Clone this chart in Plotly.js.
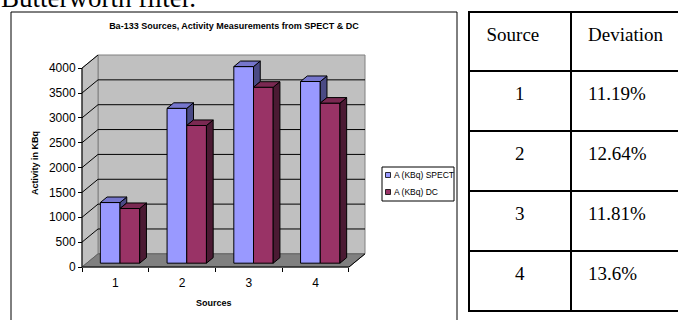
<!DOCTYPE html>
<html>
<head>
<meta charset="utf-8">
<script src="https://cdn.plot.ly/plotly-3.0.1.min.js"></script>
<style>
  html, body { margin: 0; padding: 0; background: #ffffff; overflow: hidden; }
  #chart { width: 678px; height: 320px; }
</style>
</head>
<body>
<div id="chart"></div>
<script>
// ---- data ----
const sources = [1, 2, 3, 4];
const sourceLabels = ['1', '2', '3', '4'];
const spectValues = [1220, 3115, 3955, 3655];
const dcValues = [1100, 2770, 3540, 3220];
const seriesNames = ['A (KBq) SPECT', 'A (KBq) DC'];
const yTickValues = [0, 500, 1000, 1500, 2000, 2500, 3000, 3500, 4000];
const tableHeader = ['Source', 'Deviation'];
const tableSources = ['1', '2', '3', '4'];
const tableDeviations = ['11.19%', '12.64%', '11.81%', '13.6%'];

// ---- page geometry ----
const W = 678, H = 320;
const YMAX = 4000;
const DX = 0.24;     // depth of the 3-D box, in category units
const DY = 265;      // depth of the 3-D box, in value units
const X0 = 0.5, X1 = sources.length + 0.5;
const PX = { left: 82, right: 365, top: 55, bottom: 267 };
const PAD = 3;
const xPerPx = ((X1 + DX) - X0) / (PX.right - PX.left);
const yPerPx = (YMAX + DY) / (PX.bottom - PX.top);
const xRange = [X0 - PAD * xPerPx, X1 + DX + PAD * xPerPx];
const yRange = [-PAD * yPerPx, YMAX + DY + PAD * yPerPx];
const xDomain = [(PX.left - PAD) / W, (PX.right + PAD) / W];
const yDomain = [1 - (PX.bottom + PAD) / H, 1 - (PX.top - PAD) / H];

// bar placement inside the box depth
const F0 = 0.29, F1 = 0.71, BAR_W = 0.295;
const BASE = F0 * DY, SHIFT = F0 * DX;
const DDX = (F1 - F0) * DX, DDY = (F1 - F0) * DY;

const COL = {
  spect: { front: '#9999ff', top: '#7676cc', side: '#4a4a85' },
  dc: { front: '#993366', top: '#7a2952', side: '#4b1a33' }
};

// ---- side and top faces of the columns ----
function facesTrace(polys, color) {
  const x = [], y = [];
  polys.forEach(p => {
    p.forEach(pt => { x.push(pt[0]); y.push(pt[1]); });
    x.push(p[0][0]); y.push(p[0][1]);
    x.push(null); y.push(null);
  });
  return {
    type: 'scatter', mode: 'lines', x: x, y: y, fill: 'toself',
    fillcolor: color, line: { color: '#000000', width: 1 },
    hoverinfo: 'skip', showlegend: false
  };
}

const spectTop = [], spectSide = [], dcTop = [], dcSide = [];
sources.forEach((s, i) => {
  const xa = s + SHIFT - BAR_W, xb = s + SHIFT, xc = s + SHIFT + BAR_W;
  const tS = BASE + spectValues[i], tD = BASE + dcValues[i];
  const low = Math.min(tS, tD);
  if (tS > tD) {
    spectSide.push([[xb, low], [xb, tS], [xb + DDX, tS + DDY], [xb + DDX, low + DDY]]);
  }
  spectTop.push([[xa, tS], [xb, tS], [xb + DDX, tS + DDY], [xa + DDX, tS + DDY]]);
  dcSide.push([[xc, BASE], [xc, tD], [xc + DDX, tD + DDY], [xc + DDX, BASE + DDY]]);
  dcTop.push([[xb, tD], [xc, tD], [xc + DDX, tD + DDY], [xb + DDX, tD + DDY]]);
});

// ---- table placement (pixels) ----
const TBL = { left: 469, mid: 571, right: 682, top: 12, header: 59, row: 60 };
const TEXT_DROP = 7;   // pushes the cell text a little lower inside each row
const tblBottom = TBL.top + TBL.header + TBL.row * tableSources.length;
const serifFont = { family: 'Liberation Serif, Times New Roman, serif', size: 19, color: '#000000' };

const traces = [
  {
    type: 'bar', x: sources, y: spectValues, base: BASE, width: BAR_W,
    offset: SHIFT - BAR_W, name: seriesNames[0],
    marker: { color: COL.spect.front, line: { color: '#000000', width: 1 } },
    showlegend: false, hoverinfo: 'skip'
  },
  {
    type: 'bar', x: sources, y: dcValues, base: BASE, width: BAR_W,
    offset: SHIFT, name: seriesNames[1],
    marker: { color: COL.dc.front, line: { color: '#000000', width: 1 } },
    showlegend: false, hoverinfo: 'skip'
  },
  facesTrace(spectSide, COL.spect.side),
  facesTrace(spectTop, COL.spect.top),
  facesTrace(dcSide, COL.dc.side),
  facesTrace(dcTop, COL.dc.top),
  {
    type: 'table',
    domain: { x: [TBL.left / W, 1], y: [1 - (tblBottom + TEXT_DROP) / H, 1 - (TBL.top + TEXT_DROP) / H] },
    columnwidth: [TBL.mid - TBL.left, W - TBL.mid],
    header: {
      values: tableHeader, align: ['left', 'left'], height: TBL.header,
      prefix: ['\u2002', '\u2002'],
      line: { color: 'rgba(0,0,0,0)', width: 0 }, fill: { color: 'rgba(0,0,0,0)' },
      font: serifFont
    },
    cells: {
      values: [tableSources, tableDeviations], align: ['center', 'left'], height: TBL.row,
      prefix: [null, '\u2002'],
      line: { color: 'rgba(0,0,0,0)', width: 0 }, fill: { color: 'rgba(0,0,0,0)' },
      font: serifFont
    }
  }
];

// ---- walls, floor and grid of the 3-D box ----
function path(pts) {
  return 'M' + pts.map(p => p[0] + ',' + p[1]).join('L') + 'Z';
}
function seg(a, b, color) {
  return { type: 'line', xref: 'x', yref: 'y', layer: 'below',
    x0: a[0], y0: a[1], x1: b[0], y1: b[1], line: { color: color, width: 1 } };
}
const shapes = [];
// back wall
shapes.push({ type: 'path', xref: 'x', yref: 'y', layer: 'below',
  path: path([[X0 + DX, DY], [X1 + DX, DY], [X1 + DX, YMAX + DY], [X0 + DX, YMAX + DY]]),
  fillcolor: '#c0c0c0', line: { color: '#808080', width: 1 } });
// side wall
shapes.push({ type: 'path', xref: 'x', yref: 'y', layer: 'below',
  path: path([[X0, 0], [X0 + DX, DY], [X0 + DX, YMAX + DY], [X0, YMAX]]),
  fillcolor: '#c0c0c0', line: { color: '#808080', width: 1 } });
// floor
shapes.push({ type: 'path', xref: 'x', yref: 'y', layer: 'below',
  path: path([[X0, 0], [X1, 0], [X1 + DX, DY], [X0 + DX, DY]]),
  fillcolor: '#808080', line: { color: '#606060', width: 1 } });
// grid lines
yTickValues.forEach(v => {
  if (v > 0) {
    shapes.push(seg([X0, v], [X0 + DX, v + DY], '#000000'));
    if (v < YMAX) shapes.push(seg([X0 + DX, v + DY], [X1 + DX, v + DY], '#000000'));
  }
});
// front axis lines
shapes.push(seg([X0, 0], [X0, YMAX], '#000000'));
shapes.push(seg([X0, 0], [X1, 0], '#000000'));
shapes.push(seg([X1, 0], [X1 + DX, DY], '#000000'));

// chart frame
shapes.push({ type: 'rect', xref: 'paper', yref: 'paper',
  x0: 11 / W, x1: 457 / W, y0: 1 - 322 / H, y1: 1 - 12 / H,
  line: { color: '#000000', width: 1 }, fillcolor: 'rgba(0,0,0,0)', layer: 'below' });

// table rules
function rule(x0, y0, x1, y1) {
  return { type: 'line', xref: 'paper', yref: 'paper',
    x0: x0 / W, y0: 1 - y0 / H, x1: x1 / W, y1: 1 - y1 / H,
    line: { color: '#000000', width: 2 } };
}
shapes.push(rule(TBL.left, TBL.top - 1, TBL.left, tblBottom + 1));
shapes.push(rule(TBL.mid, TBL.top, TBL.mid, tblBottom));
shapes.push(rule(TBL.left, TBL.top, TBL.right, TBL.top));
for (let r = 0; r <= tableSources.length; r++) {
  const yLine = TBL.top + TBL.header + r * TBL.row;
  shapes.push(rule(TBL.left, yLine, TBL.right, yLine));
}

// legend box and keys
const legendColors = [COL.spect.front, COL.dc.front];
shapes.push({ type: 'rect', xref: 'paper', yref: 'paper',
  x0: 382 / W, x1: 454 / W, y0: 1 - 201 / H, y1: 1 - 167 / H,
  line: { color: '#000000', width: 1 }, fillcolor: '#ffffff' });
const legendRows = [175, 192];
legendRows.forEach((yc, k) => {
  shapes.push({ type: 'rect', xref: 'paper', yref: 'paper',
    x0: 385.5 / W, x1: 390.5 / W, y0: 1 - (yc + 2.5) / H, y1: 1 - (yc - 2.5) / H,
    line: { color: '#000000', width: 0.8 }, fillcolor: legendColors[k] });
});

const sansBold = { family: 'Liberation Sans, Arial, sans-serif', size: 9, color: '#000000', weight: 'bold' };
const annotations = [
  { text: 'Butterworth filter.', xref: 'paper', yref: 'paper', x: -1 / W, y: 1 + 2 / H,
    xanchor: 'left', yanchor: 'middle', showarrow: false,
    font: { family: 'Liberation Serif, Times New Roman, serif', size: 27, color: '#000000' } },
  { text: 'Activity in KBq', xref: 'paper', yref: 'paper', x: 35 / W, y: 1 - 163 / H,
    xanchor: 'center', yanchor: 'middle', textangle: -90, showarrow: false, font: sansBold },
  { text: 'Sources', xref: 'paper', yref: 'paper', x: 214 / W, y: 1 - 303 / H,
    xanchor: 'center', yanchor: 'middle', showarrow: false, font: sansBold }
];
legendRows.forEach((yc, k) => {
  annotations.push({ text: seriesNames[k], xref: 'paper', yref: 'paper',
    x: 392 / W, y: 1 - yc / H, xanchor: 'left', yanchor: 'middle', showarrow: false,
    font: { family: 'Liberation Sans, Arial, sans-serif', size: 8.5, color: '#000000' } });
});

const layout = {
  width: W, height: H,
  margin: { l: 0, r: 0, t: 0, b: 0, pad: 0, autoexpand: false },
  paper_bgcolor: '#ffffff', plot_bgcolor: 'rgba(0,0,0,0)',
  showlegend: false, hovermode: false, barmode: 'overlay',
  title: {
    text: 'Ba-133 Sources, Activity Measurements from SPECT & DC',
    xref: 'paper', yref: 'paper', x: 234 / W, y: 1 - 26 / H,
    xanchor: 'center', yanchor: 'middle', font: sansBold
  },
  xaxis: {
    domain: xDomain, range: xRange, anchor: 'free', position: 1 - PX.bottom / H,
    showgrid: false, zeroline: false, showline: false,
    tickmode: 'array', tickvals: sources, ticktext: sourceLabels, ticks: '',
    ticklabelstandoff: 7,
    tickfont: { family: 'Liberation Sans, Arial, sans-serif', size: 12, color: '#000000' },
    minor: { tickmode: 'array', tickvals: [0.5, 1.5, 2.5, 3.5, 4.5], ticks: 'outside',
      ticklen: 4, tickwidth: 1, tickcolor: '#000000', showgrid: false }
  },
  yaxis: {
    domain: yDomain, range: yRange, anchor: 'free', position: PX.left / W,
    showgrid: false, zeroline: false, showline: false,
    tickmode: 'array', tickvals: yTickValues, ticks: 'outside', ticklen: 4,
    tickwidth: 1, tickcolor: '#000000',
    tickfont: { family: 'Liberation Sans, Arial, sans-serif', size: 12, color: '#000000' }
  },
  shapes: shapes,
  annotations: annotations
};

Plotly.newPlot('chart', traces, layout, { staticPlot: true, displayModeBar: false });
</script>
</body>
</html>
